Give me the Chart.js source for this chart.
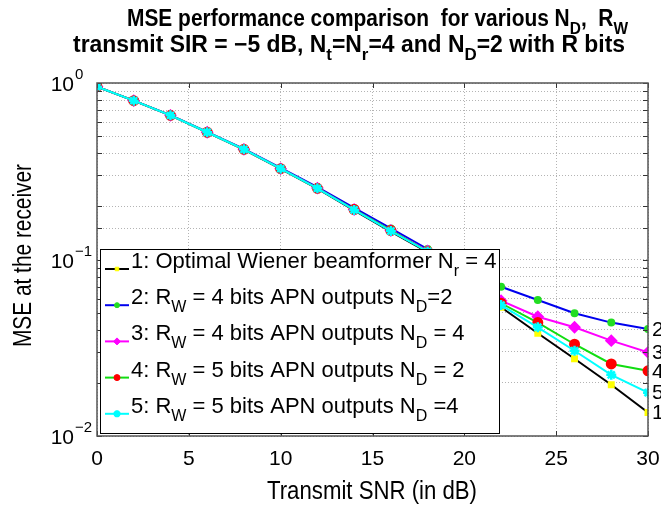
<!DOCTYPE html>
<html>
<head>
<meta charset="utf-8">
<script src="https://cdn.jsdelivr.net/npm/chart.js@4/dist/chart.umd.min.js"></script>
<style>
  html, body { margin: 0; padding: 0; background: #fff; }
  #wrap { width: 661px; height: 506px; }
</style>
</head>
<body>
<div id="wrap"><canvas id="mseChart" width="661" height="506"></canvas></div>
<script>
// transmit SNR in dB
const snr = [0, 2, 4, 6, 8, 10, 12, 14, 16, 18, 20, 22, 24, 26, 28, 30];

// MSE curves
const mseWiener = [0.953, 0.794, 0.655, 0.525, 0.420, 0.326, 0.252, 0.190, 0.144, 0.110, 0.077, 0.0536, 0.0382, 0.0274, 0.0195, 0.0136];
const mseR4N2 = [0.953, 0.795, 0.657, 0.528, 0.423, 0.330, 0.257, 0.196, 0.150, 0.1145, 0.0896, 0.0701, 0.059, 0.0496, 0.0439, 0.0404];
const mseR4N4 = [0.953, 0.794, 0.656, 0.526, 0.421, 0.327, 0.254, 0.192, 0.146, 0.112, 0.081, 0.0584, 0.0474, 0.0413, 0.0347, 0.0298];
const mseR5N2 = [0.953, 0.794, 0.656, 0.526, 0.421, 0.327, 0.253, 0.192, 0.146, 0.111, 0.0796, 0.0565, 0.0439, 0.0331, 0.0256, 0.0234];
const mseR5N4 = [0.953, 0.794, 0.656, 0.526, 0.421, 0.327, 0.253, 0.191, 0.145, 0.111, 0.0786, 0.0552, 0.0413, 0.0304, 0.0222, 0.0176];

// tick labels
const xTicks = [0, 5, 10, 15, 20, 25, 30];
const yTickExp = [0, -1, -2];

// curve numbers written at the right end of each line
const endLabels = ["1", "2", "3", "4", "5"];

// legend entries, as [text, kind] pieces ("n" normal, "sub" subscript)
const legendText = [
  [["1: Optimal Wiener beamformer N", "n"], ["r", "sub"], [" = 4", "n"]],
  [["2: R", "n"], ["W", "sub"], [" = 4 bits APN outputs N", "n"], ["D", "sub"], ["=2", "n"]],
  [["3: R", "n"], ["W", "sub"], [" = 4 bits APN outputs N", "n"], ["D", "sub"], [" = 4", "n"]],
  [["4: R", "n"], ["W", "sub"], [" = 5 bits APN outputs N", "n"], ["D", "sub"], [" = 2", "n"]],
  [["5: R", "n"], ["W", "sub"], [" = 5 bits APN outputs N", "n"], ["D", "sub"], [" =4", "n"]],
];

const titleLine1 = [["MSE performance comparison  for various N", "n"], ["D", "sub"], [",  R", "n"], ["W", "sub"]];
const titleLine2 = [["transmit SIR = \u22125 dB, N", "n"], ["t", "sub"], ["=N", "n"], ["r", "sub"], ["=4 and N", "n"], ["D", "sub"], ["=2 with R bits", "n"]];

const FONT = '"Liberation Sans", Arial, Helvetica, sans-serif';

function setFont(ctx, size, weight) {
  ctx.font = (weight || "normal") + " " + size + "px " + FONT;
}

function richWidth(ctx, segs, size, weight) {
  let w = 0;
  segs.forEach(function (s) {
    setFont(ctx, s[1] === "n" ? size : Math.round(size * 0.72), weight);
    w += ctx.measureText(s[0]).width;
  });
  return w;
}

// draws text with subscripts, x is the left edge, y the baseline
function drawRich(ctx, segs, x, y, size, weight) {
  ctx.textAlign = "left";
  ctx.textBaseline = "alphabetic";
  segs.forEach(function (s) {
    let dy = 0;
    let sz = size;
    if (s[1] === "sub") { sz = Math.round(size * 0.72); dy = size * 0.36; }
    setFont(ctx, sz, weight);
    ctx.fillText(s[0], x, y + dy);
    x += ctx.measureText(s[0]).width;
  });
  return x;
}

// same, squeezed horizontally to a given width (the original font is narrow)
function drawRichFit(ctx, segs, x, y, size, weight, width) {
  const sx = width / richWidth(ctx, segs, size, weight);
  ctx.save();
  ctx.translate(x, y);
  ctx.scale(sx, 1);
  drawRich(ctx, segs, 0, 0, size, weight);
  ctx.restore();
}

function drawMarker(ctx, ds, x, y, radius) {
  const opts = {
    pointStyle: ds.pointStyle,
    radius: radius,
    rotation: 0,
    borderWidth: ds.pointBorderWidth || 1,
  };
  ctx.save();
  ctx.fillStyle = ds.pointBackgroundColor;
  ctx.strokeStyle = ds.pointBorderColor;
  ctx.lineWidth = opts.borderWidth;
  Chart.helpers.drawPoint(ctx, opts, x, y);
  ctx.restore();
}

const matlabDecor = {
  id: "matlabDecor",
  afterDatasetsDraw(chart) {
    const ctx = chart.ctx;
    const area = chart.chartArea;
    const xs = chart.scales.x;
    const ys = chart.scales.y;

    ctx.save();

    // inner tick marks
    ctx.strokeStyle = "#333";
    ctx.lineWidth = 1;
    ctx.beginPath();
    xTicks.forEach(function (v) {
      const px = Math.round(xs.getPixelForValue(v)) + 0.5;
      ctx.moveTo(px, area.bottom); ctx.lineTo(px, area.bottom - 5);
      ctx.moveTo(px, area.top); ctx.lineTo(px, area.top + 5);
    });
    ys.ticks.forEach(function (t) {
      const py = Math.round(ys.getPixelForValue(t.value)) + 0.5;
      ctx.moveTo(area.left, py); ctx.lineTo(area.left + 5, py);
      ctx.moveTo(area.right, py); ctx.lineTo(area.right - 5, py);
    });
    ctx.stroke();

    // axes box
    ctx.strokeStyle = "#555";
    ctx.lineWidth = 1.5;
    ctx.strokeRect(area.left, area.top, area.right - area.left, area.bottom - area.top);

    ctx.fillStyle = "#000";

    // x tick labels
    setFont(ctx, 21);
    ctx.textAlign = "center";
    ctx.textBaseline = "alphabetic";
    xTicks.forEach(function (v) {
      ctx.fillText(String(v), xs.getPixelForValue(v), 465);
    });

    // y tick labels 10^k
    yTickExp.forEach(function (e) {
      const py = ys.getPixelForValue(Math.pow(10, e));
      setFont(ctx, 21);
      ctx.textAlign = "right";
      ctx.fillText("10", 74, py + 8);
      ctx.textAlign = "left";
      setFont(ctx, 15);
      ctx.fillText(e === 0 ? "0" : "\u2212" + (-e), 75, py - 4);
    });

    // axis titles
    drawRichFit(ctx, [["Transmit SNR (in dB)", "n"]], 267, 499, 25, "normal", 210);
    ctx.save();
    ctx.translate(31, 347);
    ctx.rotate(-Math.PI / 2);
    drawRichFit(ctx, [["MSE at the receiver", "n"]], 0, 0, 25, "normal", 183);
    ctx.restore();

    // chart title
    drawRichFit(ctx, titleLine1, 127, 26, 23, "bold", 501);
    drawRichFit(ctx, titleLine2, 73, 52, 23, "bold", 552);

    // curve numbers at the right end of each line
    setFont(ctx, 21);
    ctx.textAlign = "left";
    ctx.textBaseline = "middle";
    chart.data.datasets.forEach(function (ds, i) {
      const last = ds.data[ds.data.length - 1];
      ctx.fillText(endLabels[i], area.right + 4, ys.getPixelForValue(last.y) + 1);
    });

    // legend box
    const lx = 100, ly = 249, lw = 399, lh = 184;
    ctx.fillStyle = "#fff";
    ctx.fillRect(lx, ly, lw, lh);
    ctx.strokeStyle = "#000";
    ctx.lineWidth = 1;
    ctx.strokeRect(lx + 0.5, ly + 0.5, lw, lh);
    chart.data.datasets.forEach(function (ds, i) {
      const cy = 268 + i * 36.2;
      ctx.strokeStyle = ds.borderColor;
      ctx.lineWidth = 2;
      ctx.beginPath();
      ctx.moveTo(105, cy + 1);
      ctx.lineTo(129, cy + 1);
      ctx.stroke();
      drawMarker(ctx, ds, 117, cy + 1, ds.legendRadius);
      ctx.fillStyle = "#000";
      drawRichFit(ctx, legendText[i], 131, cy, 22, "normal", richWidth(ctx, legendText[i], 22, "normal"));
    });

    ctx.restore();
  },
};

function series(values) {
  return values.map(function (v, i) { return { x: snr[i], y: v }; });
}

new Chart(document.getElementById("mseChart").getContext("2d"), {
  type: "line",
  data: {
    datasets: [
      {
        label: "1",
        data: series(mseWiener),
        borderColor: "#000000",
        borderWidth: 2,
        pointStyle: "rect",
        pointRadius: 3.5,
        pointBackgroundColor: "#ffff00",
        pointBorderColor: "#ffff00",
        legendRadius: 2.5,
        order: 4,
      },
      {
        label: "2",
        data: series(mseR4N2),
        borderColor: "#0000ee",
        borderWidth: 2,
        pointStyle: "circle",
        pointRadius: 3,
        pointBackgroundColor: "#22dd22",
        pointBorderColor: "#22dd22",
        legendRadius: 2.5,
        order: 3,
      },
      {
        label: "3",
        data: series(mseR4N4),
        borderColor: "#ff00ff",
        borderWidth: 2,
        pointStyle: "rectRot",
        pointRadius: 5,
        pointBackgroundColor: "#ff00ff",
        pointBorderColor: "#ff00ff",
        legendRadius: 3.5,
        order: 2,
      },
      {
        label: "4",
        data: series(mseR5N2),
        borderColor: "#11dd11",
        borderWidth: 2,
        pointStyle: "circle",
        pointRadius: 4.5,
        pointBackgroundColor: "#ff0000",
        pointBorderColor: "#ff0000",
        legendRadius: 3,
        order: 1,
      },
      {
        label: "5",
        data: series(mseR5N4),
        borderColor: "#00ffff",
        borderWidth: 2,
        pointStyle: "star",
        pointRadius: 5,
        pointBorderWidth: 2.5,
        pointBackgroundColor: "#00ffff",
        pointBorderColor: "#00ffff",
        legendRadius: 3.5,
        order: 0,
      },
    ],
  },
  options: {
    responsive: false,
    animation: false,
    events: [],
    layout: { padding: { left: 97, right: 13, top: 83, bottom: 70 } },
    plugins: {
      legend: { display: false },
      tooltip: { enabled: false },
      title: { display: false },
    },
    scales: {
      x: {
        type: "linear",
        min: 0,
        max: 30,
        ticks: { display: false, stepSize: 5 },
        grid: { color: "#b4b4b4", lineWidth: 1, drawTicks: false },
        border: { display: false, dash: [1, 2] },
      },
      y: {
        type: "logarithmic",
        min: 0.01,
        max: 1,
        ticks: { display: false },
        grid: { color: "#b4b4b4", lineWidth: 1, drawTicks: false },
        border: { display: false, dash: [1, 2] },
      },
    },
  },
  plugins: [matlabDecor],
});
</script>
</body>
</html>
